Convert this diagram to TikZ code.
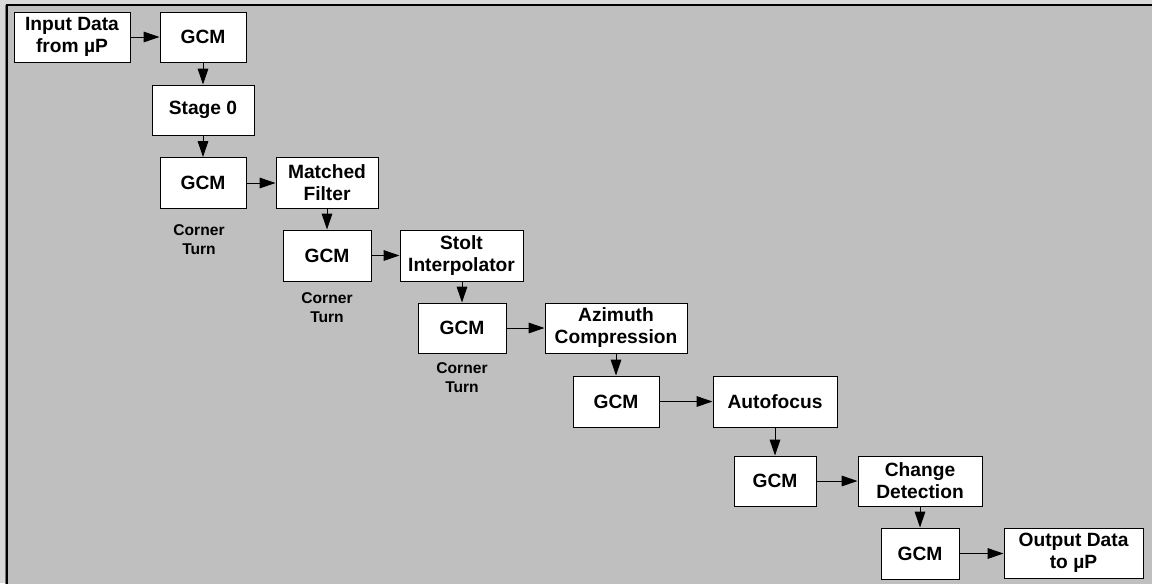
\documentclass[tikz,border=0pt]{standalone}
\usepackage{fontspec}
\setmainfont{Liberation Sans}
\usetikzlibrary{arrows.meta}
\begin{document}
\begin{tikzpicture}[x=0.75pt,y=-0.75pt,
  blk/.style={draw=black,line width=0.75pt,fill=white,inner sep=0pt,align=center,
    font=\fontsize{14.4pt}{16.5pt}\selectfont\bfseries},
  lbl/.style={align=center,inner sep=0pt,font=\fontsize{11.7pt}{14.25pt}\selectfont\bfseries},
  arr/.style={-{Triangle[length=12pt,width=8pt]},line width=0.75pt}]
\useasboundingbox (0,0) rectangle (1152,583);
\fill[black!15] (0,0) rectangle (1152,583);
\fill[black!25] (7,5) rectangle (1160,590);
\draw[black,line width=0.9pt] (7,590) -- (7,5) -- (1160,5);
\draw[black!55,line width=0.9pt] (5.6,590) -- (5.6,5);
\newcommand{\bx}[6]{\node[blk,minimum width=#4*0.75pt,minimum height=#5*0.75pt] (#1) at (#2,#3) {#6};}
\bx{in}{72}{37}{116}{50}{Input Data\\from µP}
\bx{g1}{203}{37}{86}{50}{GCM}
\bx{s0}{203}{110}{102}{50}{Stage 0}
\bx{g2}{203}{183}{86}{51}{GCM}
\bx{mf}{327}{183}{102}{51}{Matched\\Filter}
\bx{g3}{327}{255.5}{88}{51}{GCM}
\bx{st}{461.5}{255.5}{123}{51}{Stolt\\Interpolator}
\bx{g4}{462}{328}{88}{50}{GCM}
\bx{az}{616}{328}{142}{50}{Azimuth\\Compression}
\bx{g5}{616}{401.5}{86}{51}{GCM}
\bx{af}{775}{401.5}{124}{51}{Autofocus}
\bx{g6}{775}{481}{82}{50}{GCM}
\bx{cd}{920}{481}{124}{50}{Change\\Detection}
\bx{g7}{920}{553.5}{78}{51}{GCM}
\bx{out}{1073.5}{553}{139}{50}{Output Data\\to µP}
\node[lbl] (c1) at (199,240) {Corner\\Turn};
\node[lbl] (c2) at (327,307.5) {Corner\\Turn};
\node[lbl] (c3) at (462,377.5) {Corner\\Turn};
\draw[arr] (in) -- (g1);
\draw[arr] (g1) -- (s0);
\draw[arr] (s0) -- (g2);
\draw[arr] (g2) -- (mf);
\draw[arr] (mf) -- (g3);
\draw[arr] (g3) -- (st);
\draw[arr] (st.south -| g4) -- (g4);
\draw[arr] (g4) -- (az);
\draw[arr] (az) -- (g5);
\draw[arr] (g5) -- (af);
\draw[arr] (af) -- (g6);
\draw[arr] (g6) -- (cd);
\draw[arr] (cd) -- (g7);
\draw[arr] (g7.east) -- (g7.east -| out.west);
\end{tikzpicture}
\end{document}
